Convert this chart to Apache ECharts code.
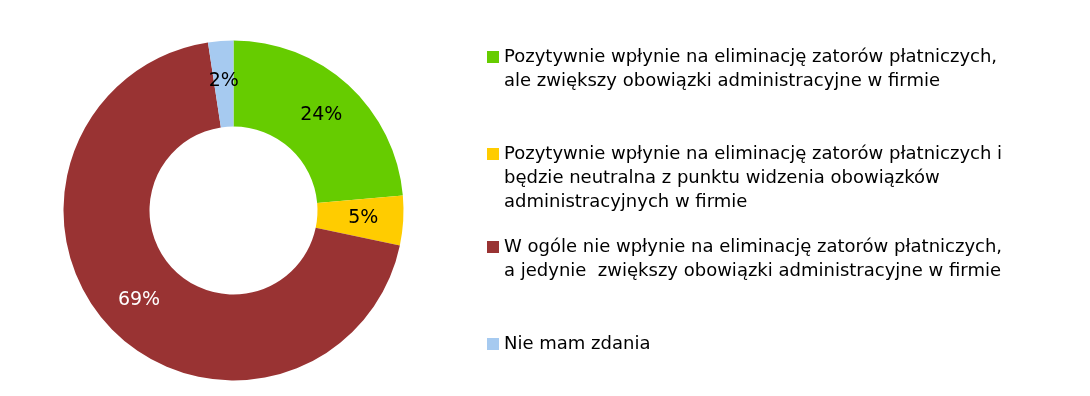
<!DOCTYPE html>
<html>
<head>
<meta charset="utf-8">
<script src="https://cdn.jsdelivr.net/npm/echarts@6/dist/echarts.min.js"></script>
<style>
html,body{margin:0;padding:0;background:#fff;}
#chart{width:1090px;height:396px;}
</style>
</head>
<body>
<div id="chart"></div>
<script>
// Data
const categories = [
  "Pozytywnie wpłynie na eliminację zatorów płatniczych,\nale zwiększy obowiązki administracyjne w firmie",
  "Pozytywnie wpłynie na eliminację zatorów płatniczych i\nbędzie neutralna z punktu widzenia obowiązków\nadministracyjnych w firmie",
  "W ogóle nie wpłynie na eliminację zatorów płatniczych,\na jedynie  zwiększy obowiązki administracyjne w firmie",
  "Nie mam zdania"
];
const values = [23.6, 4.7, 69.3, 2.4];

const colors = ['#66CC00', '#FFCC00', '#993333', '#A6CAF0'];
const labelColors = ['#000', '#000', '#fff', '#000'];
const legendTops = [21, 94, 211, 332];
const FONT = 'DejaVu Sans';
const LH = 24;

const chart = echarts.init(document.getElementById('chart'), null, {renderer: 'canvas'});

const legends = categories.map((name, i) => {
  const n = name.split('\n').length;
  return {
    orient: 'vertical',
    left: 487,
    top: legendTops[i],
    padding: 0,
    itemWidth: 12,
    itemHeight: 12,
    icon: 'rect',
    selectedMode: false,
    data: [name],
    // leading blank lines keep the first text line level with the marker
    formatter: nm => '\n'.repeat(n - 1) + nm,
    textStyle: {
      fontFamily: FONT,
      fontSize: 18,
      color: '#000',
      lineHeight: LH
    }
  };
});

const option = {
  backgroundColor: '#fff',
  color: colors,
  animation: false,
  legend: legends,
  series: [{
    type: 'pie',
    center: [233.5, 210.5],
    radius: [84, 170],
    startAngle: 90,
    clockwise: true,
    avoidLabelOverlap: false,
    label: {
      show: true,
      position: 'inside',
      fontFamily: FONT,
      fontSize: 19,
      formatter: p => Math.round(p.value) + '%'
    },
    labelLine: {show: false},
    emphasis: {disabled: true},
    data: categories.map((name, i) => ({
      name: name,
      value: values[i],
      label: {color: labelColors[i]}
    }))
  }]
};
chart.setOption(option);
</script>
</body>
</html>
